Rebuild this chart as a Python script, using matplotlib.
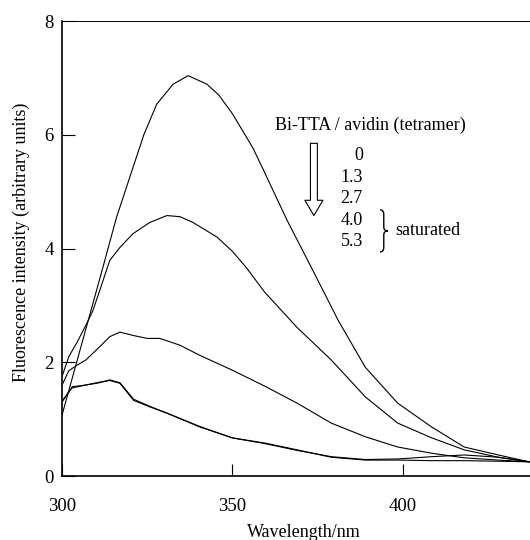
import matplotlib
matplotlib.use("Agg")
import matplotlib.pyplot as plt
from matplotlib.patches import FancyArrowPatch, PathPatch
from matplotlib.path import Path

plt.rcParams['font.family'] = ['Liberation Serif', 'DejaVu Serif']
plt.rcParams['font.size'] = 13

# spectra (wavelength nm, intensity a.u.)
wl0 = [300, 303, 306, 309, 312, 316, 320.8, 324, 327.8, 332.6, 337, 342.5, 346, 350,
       356, 359.5, 366, 373.3, 381, 389, 398.5, 408.5, 418, 428, 437]
int0 = [1.07, 1.72, 2.37, 3.02, 3.67, 4.55, 5.42, 6.0, 6.54, 6.89, 7.04, 6.89, 6.7, 6.37,
        5.77, 5.33, 4.5, 3.65, 2.74, 1.91, 1.28, 0.86, 0.51, 0.37, 0.25]

wl1 = [300, 302, 304.4, 307, 309, 311, 314, 317, 320.8, 325.8, 330.8, 334.6, 338.4, 345.5,
       350, 354, 359.5, 369, 379, 389, 398.5, 408.5, 418, 428, 437]
int1 = [1.75, 2.1, 2.35, 2.65, 2.9, 3.25, 3.79, 4.02, 4.26, 4.46, 4.58, 4.56, 4.46, 4.2,
        3.95, 3.67, 3.23, 2.61, 2.04, 1.39, 0.93, 0.67, 0.46, 0.33, 0.25]

wl2 = [300, 302, 304.4, 307, 311, 314, 317, 321, 325, 328.7, 334.6, 340.5, 350, 359.5,
       369, 379, 389, 398.5, 408.5, 418, 428, 437]
int2 = [1.6, 1.85, 1.95, 2.04, 2.27, 2.45, 2.53, 2.47, 2.42, 2.42, 2.3, 2.12, 1.86, 1.58,
        1.28, 0.93, 0.69, 0.51, 0.4, 0.32, 0.28, 0.25]

wl3 = [300, 303, 307, 311, 314, 317, 321, 326, 331, 340.5, 350, 359.5, 369, 379, 389,
       398.5, 408.5, 418, 428, 437]
int3 = [1.3, 1.57, 1.6, 1.65, 1.68, 1.63, 1.33, 1.21, 1.1, 0.86, 0.67, 0.58, 0.46, 0.33,
        0.28, 0.28, 0.27, 0.27, 0.26, 0.25]
int4 = [1.32, 1.55, 1.6, 1.64, 1.69, 1.64, 1.35, 1.22, 1.1, 0.87, 0.67, 0.57, 0.45, 0.34,
        0.29, 0.3, 0.34, 0.37, 0.33, 0.25]

ratios = ['0', '1.3', '2.7', '4.0', '5.3']

fig = plt.figure(figsize=(5.3, 5.4), dpi=100)
ax = fig.add_axes([0.117, 0.1185, 0.883, 0.8425])

for x, y in [(wl0, int0), (wl1, int1), (wl2, int2), (wl3, int3), (wl3, int4)]:
    ax.plot(x, y, color='black', lw=0.8)

ax.set_xlim(300, 437.3)
ax.set_ylim(0, 8)
ax.set_xticks([300, 350, 400])
ax.set_yticks([0, 2, 4, 6, 8])
ax.tick_params(axis='x', direction='in', length=9, width=0.8, pad=16, labelsize=13.5)
ax.tick_params(axis='y', direction='in', length=9, width=0.8, pad=6, labelsize=13.5)

ax.spines['right'].set_visible(False)
ax.spines['top'].set_linestyle((0, (1, 1)))
ax.spines['top'].set_linewidth(0.7)
ax.spines['left'].set_linewidth(1.2)
ax.spines['bottom'].set_linewidth(1.2)

ax.set_xlabel('Wavelength/nm')
ax.xaxis.set_label_coords(0.517, -0.105)
ax.set_ylabel('Fluorescence intensity (arbitrary units)')
ax.yaxis.set_label_coords(-0.068, 0.514)

# legend-like annotation
ax.text(362.5, 6.16, 'Bi-TTA / avidin (tetramer)', ha='left', va='center')
ys = [5.63, 5.25, 4.88, 4.49, 4.12]
for lab, yy in zip(ratios, ys):
    ax.text(388.3, yy, lab, ha='right', va='center')

arr = FancyArrowPatch((373.9, 5.85), (373.9, 4.58),
                      arrowstyle='simple,head_width=13,head_length=11,tail_width=5',
                      mutation_scale=1, shrinkA=0, shrinkB=0,
                      fc='white', ec='black', lw=0.8)
ax.add_patch(arr)

# curly brace for the saturated pair
bx0, bx1, bx2 = 393.3, 394.4, 395.6
by_top, by_mid, by_bot = 4.68, 4.31, 3.94
verts = [(bx0, by_top), (bx1, by_top), (bx1, by_top - 0.08),
         (bx1, by_mid + 0.07),
         (bx1, by_mid), (bx2, by_mid),
         (bx1, by_mid), (bx1, by_mid - 0.07),
         (bx1, by_bot + 0.08),
         (bx1, by_bot), (bx0, by_bot)]
codes = [Path.MOVETO, Path.CURVE3, Path.CURVE3,
         Path.LINETO,
         Path.CURVE3, Path.CURVE3,
         Path.CURVE3, Path.CURVE3,
         Path.LINETO,
         Path.CURVE3, Path.CURVE3]
ax.add_patch(PathPatch(Path(verts, codes), fc='none', ec='black', lw=1.0))
ax.text(397.7, 4.32, 'saturated', ha='left', va='center')

fig.savefig('out.png', dpi=100)
